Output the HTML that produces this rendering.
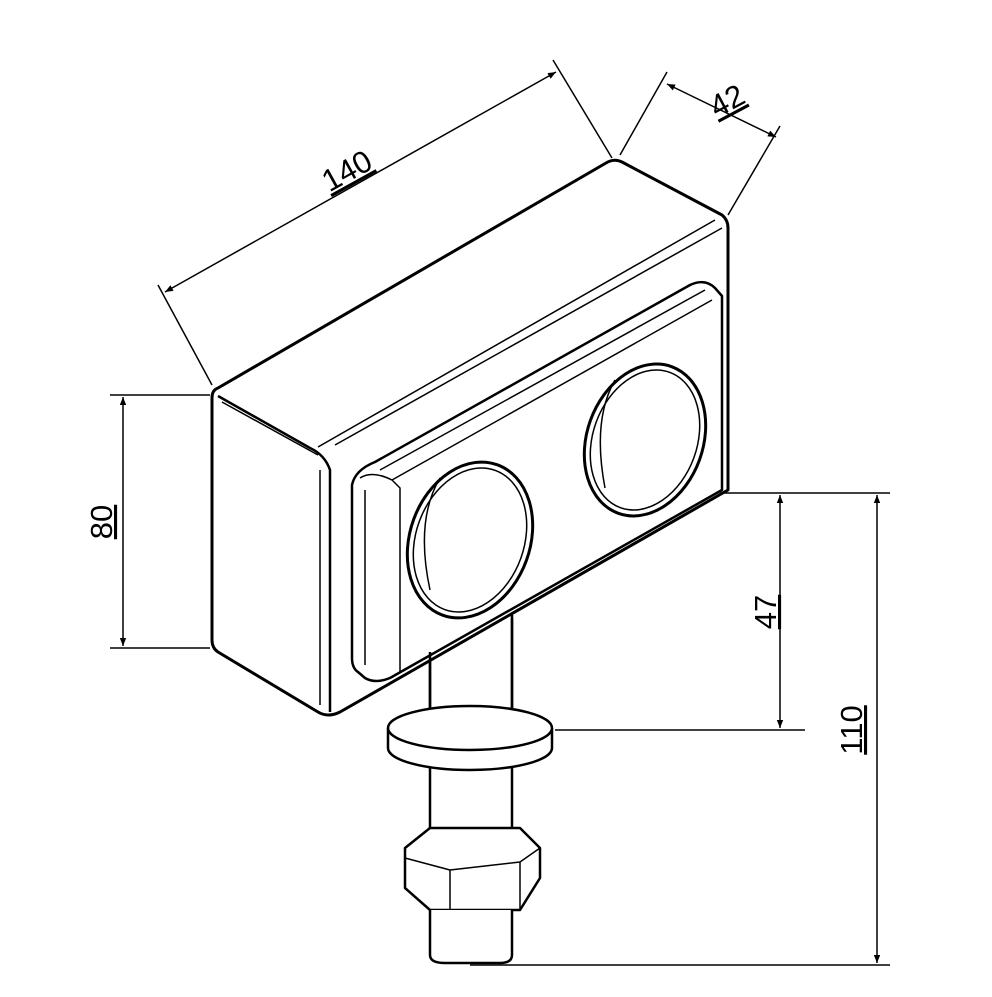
<!DOCTYPE html>
<html><head><meta charset="utf-8"><style>html,body{margin:0;padding:0;background:#fff}</style></head>
<body>
<svg width="992" height="992" viewBox="0 0 992 992" xmlns="http://www.w3.org/2000/svg">
<defs>
<marker id="a" viewBox="0 0 10 10" refX="10" refY="5" markerWidth="12" markerHeight="8" orient="auto-start-reverse" markerUnits="userSpaceOnUse"><path d="M0,1 L10,5 L0,9 z" fill="#000"/></marker>
</defs>
<g fill="none" stroke="#000" stroke-width="2.5" stroke-linejoin="round">
<!-- bolt shaft behind -->
<path d="M430,650 L430,730 M512,615 L512,730" />
<!-- box -->
<path d="M218,388 L606,163 Q614,158 622,162 L722,215 Q728,220 728,228 L728,490 L340,712 Q328,718 318,712 L218,652 Q212,648 212,640 L212,398 Q212,390 218,388 Z" fill="#fff" stroke-width="3"/>
<path d="M218,396 L310,448 Q325,455 330,470 L330,712" />
<path d="M318,447 L715,220" stroke-width="1.5"/>
<path d="M222,402 L318,455" stroke-width="1.5"/>
<path d="M320,470 L320,705" stroke-width="1.5"/>
<path d="M335,445 L722,228" stroke-width="1.5"/>
<!-- plate -->
<path d="M375,462 L690,285 Q705,278 715,288 L722,296 L722,490 L390,678 Q375,684 365,678 L358,672 Q352,668 352,658 L352,485 Q355,470 375,462 Z" fill="#fff"/>
<path d="M360,478 Q372,470 392,480 L400,488 L400,672" stroke-width="1.5"/>
<path d="M392,480 L712,300" stroke-width="1.5"/>
<path d="M380,470 L705,290" stroke-width="1.5"/>
<path d="M365,490 L365,665" stroke-width="1.5"/>
<!-- holes -->
<ellipse cx="470" cy="540" rx="60" ry="80" transform="rotate(20 470 540)" stroke-width="3"/>
<ellipse cx="470" cy="540" rx="54" ry="74" transform="rotate(20 470 540)" stroke-width="1.5"/>
<path d="M440,478 Q415,520 430,590" stroke-width="1.5"/>
<ellipse cx="645" cy="440" rx="58" ry="78" transform="rotate(20 645 440)" stroke-width="3"/>
<ellipse cx="645" cy="440" rx="52" ry="72" transform="rotate(20 645 440)" stroke-width="1.5"/>
<path d="M615,380 Q592,420 605,488" stroke-width="1.5"/>
<!-- shaft from plate to washer (over box) -->
<path d="M430,652 L430,712 M512,618 L512,712" />
<!-- washer -->
<path d="M388,728 L388,748 A82,22 0 0 0 552,748 L552,728" fill="#fff"/>
<ellipse cx="470" cy="728" rx="82" ry="22" fill="#fff"/>
<path d="M430,768 L430,838 M512,768 L512,838"/>
<path d="M405,848 L430,828 L520,828 L540,848 L540,878 L520,910 L430,910 L405,888 Z" fill="#fff"/>
<path d="M405,858 L450,870 L520,862 L540,848 M450,870 L450,910 M520,862 L520,910" stroke-width="1.5"/>
<path d="M430,910 L430,955 Q430,963 445,963 L500,963 Q512,963 512,955 L512,910" fill="#fff"/>
</g>
<!-- dimensions -->
<g stroke="#000" stroke-width="1.5" fill="none">
<line x1="212" y1="385" x2="158" y2="285"/><line x1="612" y1="158" x2="553" y2="60"/>
<line x1="165" y1="292" x2="556" y2="72" marker-start="url(#a)" marker-end="url(#a)"/>
<line x1="620" y1="155" x2="667" y2="72"/><line x1="728" y1="215" x2="780" y2="126"/>
<line x1="667" y1="84" x2="776" y2="137" marker-start="url(#a)" marker-end="url(#a)"/>
<line x1="110" y1="395" x2="210" y2="395"/><line x1="110" y1="648" x2="210" y2="648"/>
<line x1="123" y1="397" x2="123" y2="646" marker-start="url(#a)" marker-end="url(#a)"/>
<line x1="720" y1="493" x2="890" y2="493"/><line x1="555" y1="730" x2="805" y2="730"/>
<line x1="780" y1="495" x2="780" y2="728" marker-start="url(#a)" marker-end="url(#a)"/>
<line x1="470" y1="965" x2="890" y2="965"/>
<line x1="877" y1="495" x2="877" y2="963" marker-start="url(#a)" marker-end="url(#a)"/>
</g>
<g font-family="Liberation Sans, sans-serif" font-size="31" fill="#000" text-anchor="middle" text-decoration="underline">
<text transform="translate(352,180) rotate(-29)">140</text>
<text transform="translate(732,110) rotate(-28)">42</text>
<text transform="translate(112,522) rotate(-90)">80</text>
<text transform="translate(776,612) rotate(-90)">47</text>
<text transform="translate(862,730) rotate(-90)">110</text>
</g>
</svg>
</body></html>
